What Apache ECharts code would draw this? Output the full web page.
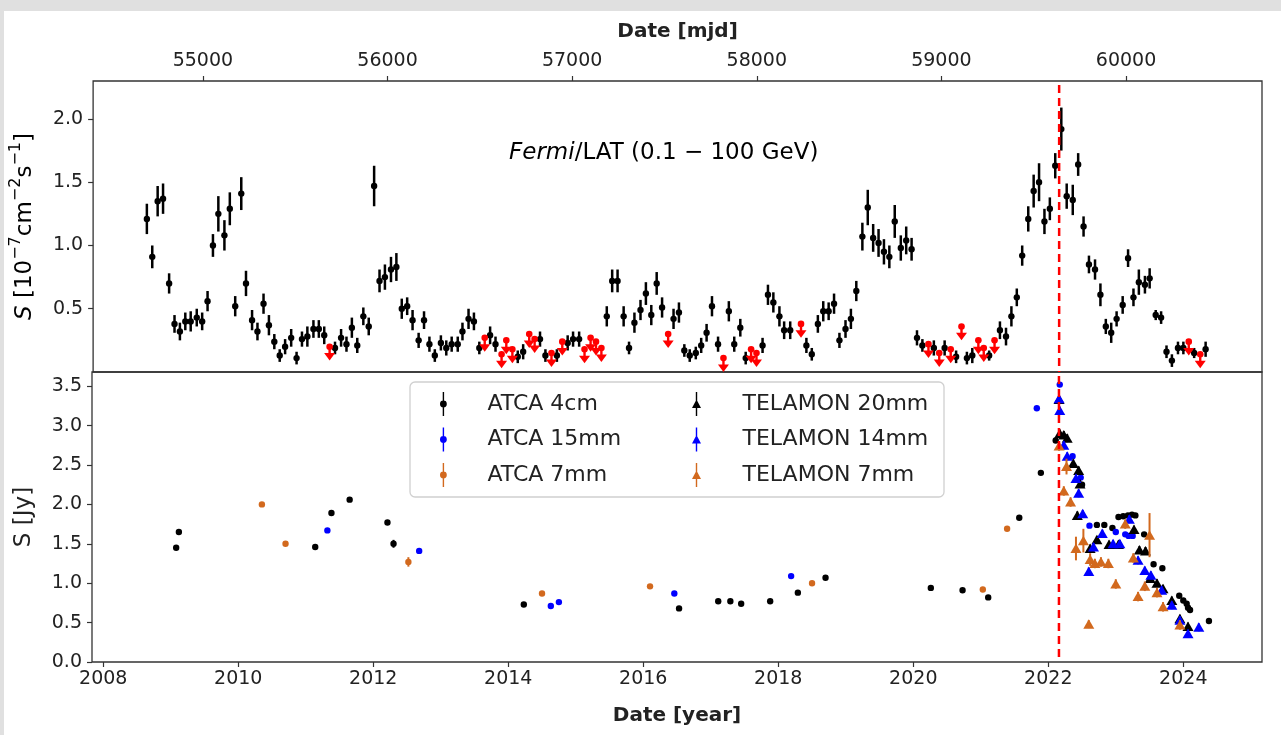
<!DOCTYPE html>
<html>
<head>
<meta charset="utf-8">
<script src="https://cdn.jsdelivr.net/npm/echarts@6.0.0/dist/echarts.min.js"></script>
<style>
  html, body { margin: 0; padding: 0; background: #fff; }
  #chart { width: 1281px; height: 735px; }
</style>
</head>
<body>
<div id="chart"></div>
<script>
// axis ticks
const yearTicks = [2008, 2010, 2012, 2014, 2016, 2018, 2020, 2022, 2024];
const mjdTicks = [55000, 56000, 57000, 58000, 59000, 60000];
const fluxTicks = [0.5, 1.0, 1.5, 2.0];
const radioTicks = [0, 0.5, 1.0, 1.5, 2.0, 2.5, 3.0, 3.5];

// date of the flare (red dashed line), decimal year
const flareYear = [2022.158];

// Fermi/LAT detections [year, flux 1e-7, err]
const fermiDet = [
  [2008.63, 1.21, 0.12], [2008.71, 0.91, 0.09], [2008.79, 1.35, 0.12], [2008.87, 1.37, 0.12],
  [2008.96, 0.70, 0.08], [2009.04, 0.38, 0.07], [2009.12, 0.32, 0.07], [2009.20, 0.40, 0.07],
  [2009.28, 0.40, 0.08], [2009.37, 0.43, 0.07], [2009.45, 0.40, 0.07], [2009.53, 0.56, 0.08],
  [2009.61, 1.00, 0.09], [2009.69, 1.25, 0.14], [2009.78, 1.08, 0.12], [2009.86, 1.29, 0.13],
  [2009.94, 0.52, 0.08], [2010.03, 1.41, 0.13], [2010.10, 0.70, 0.10], [2010.19, 0.41, 0.08],
  [2010.27, 0.32, 0.07], [2010.36, 0.54, 0.08], [2010.44, 0.37, 0.08], [2010.52, 0.24, 0.06],
  [2010.60, 0.13, 0.05], [2010.68, 0.20, 0.06], [2010.77, 0.27, 0.07], [2010.85, 0.11, 0.05],
  [2010.93, 0.26, 0.06], [2011.01, 0.28, 0.08], [2011.10, 0.34, 0.07], [2011.18, 0.34, 0.07],
  [2011.26, 0.29, 0.07], [2011.42, 0.19, 0.05], [2011.51, 0.27, 0.07], [2011.59, 0.22, 0.06],
  [2011.67, 0.35, 0.08], [2011.75, 0.21, 0.06], [2011.84, 0.44, 0.07], [2011.92, 0.36, 0.07],
  [2012.00, 1.47, 0.16], [2012.08, 0.72, 0.09], [2012.16, 0.75, 0.10], [2012.25, 0.81, 0.10],
  [2012.33, 0.83, 0.11], [2012.41, 0.50, 0.08], [2012.49, 0.52, 0.07], [2012.57, 0.41, 0.08],
  [2012.66, 0.25, 0.06], [2012.74, 0.41, 0.07], [2012.82, 0.22, 0.06], [2012.90, 0.13, 0.05],
  [2012.99, 0.23, 0.06], [2013.07, 0.19, 0.06], [2013.15, 0.22, 0.06], [2013.24, 0.22, 0.06],
  [2013.31, 0.32, 0.07], [2013.40, 0.42, 0.08], [2013.48, 0.40, 0.07], [2013.56, 0.19, 0.05],
  [2013.72, 0.29, 0.07], [2013.80, 0.22, 0.06], [2014.13, 0.12, 0.05], [2014.21, 0.16, 0.06],
  [2014.46, 0.26, 0.06], [2014.54, 0.13, 0.05], [2014.71, 0.13, 0.05], [2014.87, 0.23, 0.06],
  [2014.95, 0.26, 0.06], [2015.04, 0.26, 0.06], [2015.45, 0.44, 0.08], [2015.53, 0.72, 0.09],
  [2015.61, 0.72, 0.09], [2015.70, 0.44, 0.08], [2015.78, 0.19, 0.05], [2015.86, 0.39, 0.08],
  [2015.95, 0.49, 0.08], [2016.03, 0.62, 0.09], [2016.11, 0.45, 0.08], [2016.19, 0.70, 0.09],
  [2016.27, 0.51, 0.08], [2016.44, 0.42, 0.08], [2016.52, 0.47, 0.08], [2016.60, 0.17, 0.05],
  [2016.68, 0.13, 0.05], [2016.77, 0.15, 0.05], [2016.85, 0.21, 0.06], [2016.93, 0.31, 0.07],
  [2017.01, 0.52, 0.08], [2017.10, 0.22, 0.06], [2017.26, 0.48, 0.08], [2017.34, 0.22, 0.06],
  [2017.43, 0.35, 0.07], [2017.51, 0.11, 0.05], [2017.76, 0.21, 0.06], [2017.84, 0.61, 0.08],
  [2017.92, 0.55, 0.08], [2018.01, 0.44, 0.08], [2018.08, 0.33, 0.07], [2018.17, 0.33, 0.07],
  [2018.41, 0.21, 0.06], [2018.49, 0.14, 0.05], [2018.58, 0.38, 0.07], [2018.66, 0.48, 0.08],
  [2018.74, 0.48, 0.07], [2018.82, 0.54, 0.08], [2018.90, 0.25, 0.06], [2018.99, 0.34, 0.07],
  [2019.07, 0.42, 0.08], [2019.15, 0.64, 0.08], [2019.24, 1.07, 0.11], [2019.32, 1.30, 0.14],
  [2019.40, 1.06, 0.11], [2019.48, 1.02, 0.11], [2019.56, 0.95, 0.10], [2019.64, 0.91, 0.09],
  [2019.72, 1.19, 0.13], [2019.81, 0.98, 0.10], [2019.89, 1.04, 0.11], [2019.97, 0.97, 0.09],
  [2020.05, 0.27, 0.06], [2020.13, 0.21, 0.05], [2020.30, 0.19, 0.06], [2020.46, 0.19, 0.06],
  [2020.63, 0.12, 0.05], [2020.79, 0.11, 0.05], [2020.87, 0.13, 0.06], [2021.12, 0.13, 0.04],
  [2021.28, 0.33, 0.07], [2021.37, 0.28, 0.07], [2021.45, 0.44, 0.08], [2021.53, 0.59, 0.07],
  [2021.61, 0.92, 0.08], [2021.70, 1.21, 0.10], [2021.78, 1.43, 0.13], [2021.86, 1.50, 0.15],
  [2021.94, 1.19, 0.10], [2022.02, 1.29, 0.09], [2022.10, 1.63, 0.10], [2022.19, 1.92, 0.17],
  [2022.27, 1.39, 0.10], [2022.36, 1.36, 0.12], [2022.44, 1.64, 0.09], [2022.52, 1.15, 0.08],
  [2022.60, 0.85, 0.07], [2022.69, 0.81, 0.08], [2022.77, 0.61, 0.09], [2022.85, 0.36, 0.06],
  [2022.93, 0.31, 0.08], [2023.01, 0.42, 0.06], [2023.10, 0.53, 0.07], [2023.18, 0.90, 0.07],
  [2023.26, 0.59, 0.07], [2023.34, 0.71, 0.10], [2023.43, 0.69, 0.07], [2023.50, 0.74, 0.08],
  [2023.59, 0.45, 0.04], [2023.67, 0.43, 0.05], [2023.75, 0.16, 0.05], [2023.83, 0.09, 0.05],
  [2023.92, 0.19, 0.05], [2024.00, 0.19, 0.05], [2024.16, 0.15, 0.04], [2024.33, 0.18, 0.06]
];

// Fermi/LAT upper limits [year, flux 1e-7]
const fermiUL = [
  [2011.34, 0.20], [2013.64, 0.27], [2013.89, 0.14], [2013.96, 0.25], [2014.05, 0.18],
  [2014.30, 0.30], [2014.38, 0.26], [2014.63, 0.15], [2014.79, 0.24], [2015.12, 0.18],
  [2015.21, 0.27], [2015.29, 0.24], [2015.37, 0.19], [2016.36, 0.30], [2017.18, 0.11],
  [2017.59, 0.18], [2017.67, 0.15], [2018.33, 0.38], [2020.22, 0.22], [2020.38, 0.15],
  [2020.55, 0.18], [2020.71, 0.36], [2020.96, 0.25], [2021.04, 0.19], [2021.20, 0.25],
  [2024.08, 0.24], [2024.25, 0.14]
];

// radio light curves [year, flux Jy, err]
const atca4cm = [
  [2009.08, 1.45, 0.02], [2009.12, 1.65, 0.02], [2011.14, 1.46, 0.02], [2011.38, 1.89, 0.02],
  [2011.65, 2.06, 0.02], [2012.21, 1.77, 0.02], [2012.30, 1.50, 0.05], [2014.23, 0.73, 0.02],
  [2016.53, 0.68, 0.02], [2017.11, 0.77, 0.02], [2017.29, 0.77, 0.02], [2017.45, 0.74, 0.02],
  [2017.88, 0.77, 0.02], [2018.29, 0.88, 0.02], [2018.70, 1.07, 0.02], [2020.26, 0.94, 0.02],
  [2020.73, 0.91, 0.02], [2021.11, 0.82, 0.02], [2021.57, 1.83, 0.02], [2021.89, 2.40, 0.02],
  [2022.11, 2.81, 0.02], [2022.50, 2.25, 0.03], [2022.72, 1.74, 0.02], [2022.83, 1.74, 0.02],
  [2022.95, 1.70, 0.02], [2023.04, 1.84, 0.02], [2023.11, 1.85, 0.02], [2023.18, 1.86, 0.02],
  [2023.24, 1.87, 0.02], [2023.29, 1.86, 0.02], [2023.42, 1.62, 0.02], [2023.56, 1.24, 0.02],
  [2023.69, 1.19, 0.02], [2023.94, 0.84, 0.02], [2024.00, 0.78, 0.02], [2024.05, 0.74, 0.02],
  [2024.07, 0.69, 0.02], [2024.10, 0.66, 0.02], [2024.38, 0.52, 0.02]
];
const atca15mm = [
  [2011.32, 1.67, 0.02], [2012.68, 1.41, 0.02], [2014.63, 0.71, 0.02], [2014.75, 0.76, 0.02],
  [2016.46, 0.87, 0.02], [2018.19, 1.09, 0.02], [2021.83, 3.22, 0.02], [2022.17, 3.52, 0.03],
  [2022.36, 2.61, 0.03], [2022.48, 2.34, 0.03], [2022.61, 1.73, 0.03], [2023.00, 1.65, 0.02],
  [2023.14, 1.62, 0.02], [2023.19, 1.60, 0.02], [2023.25, 1.60, 0.02]
];
const atca7mm = [
  [2010.35, 2.00, 0.02], [2010.70, 1.50, 0.02], [2012.52, 1.27, 0.06], [2014.50, 0.87, 0.02],
  [2016.10, 0.96, 0.02], [2018.50, 1.00, 0.02], [2021.03, 0.92, 0.02], [2021.39, 1.69, 0.02]
];
const telamon20mm = [
  [2022.16, 3.33, 0.05], [2022.17, 2.90, 0.05], [2022.23, 2.88, 0.05], [2022.28, 2.84, 0.05],
  [2022.37, 2.52, 0.05], [2022.45, 2.43, 0.05], [2022.47, 2.26, 0.05], [2022.43, 1.86, 0.05],
  [2022.62, 1.44, 0.05], [2022.72, 1.55, 0.05], [2022.90, 1.49, 0.05], [2023.04, 1.49, 0.05],
  [2023.27, 1.68, 0.05], [2023.35, 1.42, 0.05], [2023.44, 1.41, 0.05], [2023.51, 1.06, 0.05],
  [2023.61, 1.00, 0.05], [2023.70, 0.93, 0.05], [2023.83, 0.78, 0.05], [2023.95, 0.55, 0.05],
  [2024.07, 0.45, 0.05]
];
const telamon14mm = [
  [2022.16, 3.34, 0.05], [2022.17, 3.19, 0.05], [2022.23, 2.75, 0.05], [2022.28, 2.61, 0.05],
  [2022.41, 2.33, 0.05], [2022.45, 2.14, 0.05], [2022.51, 1.88, 0.05], [2022.60, 1.15, 0.05],
  [2022.67, 1.46, 0.05], [2022.80, 1.63, 0.05], [2022.96, 1.50, 0.05], [2023.06, 1.50, 0.05],
  [2023.20, 1.81, 0.05], [2023.33, 1.29, 0.05], [2023.43, 1.16, 0.05], [2023.52, 1.10, 0.05],
  [2023.68, 0.91, 0.05], [2023.83, 0.72, 0.05], [2023.95, 0.53, 0.05], [2024.07, 0.36, 0.05],
  [2024.23, 0.44, 0.05]
];
const telamon7mm = [
  [2022.16, 2.74, 0.06], [2022.27, 2.48, 0.10], [2022.23, 2.17, 0.06], [2022.33, 2.03, 0.06],
  [2022.41, 1.44, 0.15], [2022.52, 1.54, 0.15], [2022.60, 0.48, 0.05], [2022.62, 1.30, 0.08],
  [2022.69, 1.25, 0.06], [2022.78, 1.27, 0.06], [2022.89, 1.25, 0.06], [2023.00, 0.99, 0.06],
  [2023.14, 1.75, 0.06], [2023.26, 1.32, 0.06], [2023.33, 0.83, 0.06], [2023.43, 0.96, 0.06],
  [2023.50, 1.61, 0.28], [2023.61, 0.88, 0.06], [2023.70, 0.70, 0.06], [2023.95, 0.47, 0.06]
];

const FONT = 'DejaVu Sans';
const BLACK = '#000000';
const BLUE = '#0000ff';
const ORANGE = '#d2691e';
const RED = '#ff0000';

const yearMin = 2007.833, yearMax = 2025.166;
const toMjd = y => 51544.5 + (y - 2000) * 365.25;

// point with vertical error bar
function errorBarItem(color, shape, size, lw) {
  return function (params, api) {
    const x = api.value(0), y = api.value(1), e = api.value(2);
    const p = api.coord([x, y]);
    const lo = api.coord([x, y - e]);
    const hi = api.coord([x, y + e]);
    const children = [{
      type: 'line',
      shape: { x1: p[0], y1: lo[1], x2: p[0], y2: hi[1] },
      style: { stroke: color, lineWidth: lw }
    }];
    if (shape === 'triangle') {
      children.push({
        type: 'polygon',
        shape: { points: [[p[0], p[1] - size], [p[0] + size * 1.1, p[1] + size * 0.9], [p[0] - size * 1.1, p[1] + size * 0.9]] },
        style: { fill: color }
      });
    } else {
      children.push({ type: 'circle', shape: { cx: p[0], cy: p[1], r: size }, style: { fill: color } });
    }
    return { type: 'group', children };
  };
}

// upper limit: dot with a downward arrow
function upperLimitItem(params, api) {
  const x = api.value(0), y = api.value(1);
  const p = api.coord([x, y]);
  const tip = api.coord([x, y - 0.11]);
  return {
    type: 'group',
    children: [
      { type: 'line', shape: { x1: p[0], y1: p[1], x2: p[0], y2: tip[1] - 5 }, style: { stroke: RED, lineWidth: 2.4 } },
      { type: 'polygon', shape: { points: [[p[0] - 5.5, tip[1] - 7.5], [p[0] + 5.5, tip[1] - 7.5], [p[0], tip[1]]] }, style: { fill: RED } },
      { type: 'circle', shape: { cx: p[0], cy: p[1], r: 3.3 }, style: { fill: RED } }
    ]
  };
}

function flareLine(params, api) {
  const cs = params.coordSys;
  const p = api.coord([api.value(0), 0]);
  return {
    type: 'line',
    shape: { x1: p[0], y1: cs.y + 4, x2: p[0], y2: cs.y + cs.height },
    style: { stroke: RED, lineWidth: 2.5, lineDash: [8, 5] }
  };
}

const tickStyle = { color: '#333', width: 1.2 };
const labelStyle = { fontFamily: FONT, fontSize: 19, color: '#222' };

function radioSeries(name, data, color, shape, size) {
  return {
    type: 'custom', name, data, xAxisIndex: 2, yAxisIndex: 1,
    encode: { x: 0, y: 1 },
    itemStyle: { color },
    renderItem: errorBarItem(color, shape, size, 2),
    z: 3
  };
}

const circleIcon = 'path://M4.3,0H5.7V24H4.3Z M5,8.6A3.4,3.4,0,1,1,4.99,8.6Z';
const triIcon = 'path://M4.3,0H5.7V24H4.3Z M5,7.5L9.5,16H0.5Z';

const chart = echarts.init(document.getElementById('chart'));
chart.setOption({
  backgroundColor: '#fff',
  animation: false,
  title: {
    text: '{i|Fermi}/LAT (0.1 − 100 GeV)',
    left: 509, top: 142, padding: 0,
    textStyle: {
      fontFamily: FONT, fontSize: 23, fontWeight: 'normal', color: '#000',
      rich: { i: { fontFamily: FONT, fontSize: 23, fontStyle: 'italic', color: '#000' } }
    }
  },
  graphic: [
    { type: 'rect', shape: { x: 0, y: 0, width: 1281, height: 11 }, style: { fill: '#e0e0e0' }, z: 100 },
    { type: 'rect', shape: { x: 0, y: 0, width: 4, height: 735 }, style: { fill: '#e0e0e0' }, z: 100 },
    {
      type: 'rect', shape: { x: 410, y: 382, width: 534, height: 115, r: 5 },
      style: { fill: 'rgba(255,255,255,0.8)', stroke: '#d0d0d0', lineWidth: 1.3 }, z: 5
    }
  ],
  legend: [
    {
      left: 440, top: 392, orient: 'vertical', padding: 0, itemGap: 11.5,
      itemWidth: 10, itemHeight: 24, selectedMode: false, z: 10,
      textStyle: { fontFamily: FONT, fontSize: 22, color: '#222', padding: [0, 0, 0, 34] },
      data: [
        { name: 'ATCA 4cm', icon: circleIcon, itemStyle: { color: BLACK } },
        { name: 'ATCA 15mm', icon: circleIcon, itemStyle: { color: BLUE } },
        { name: 'ATCA 7mm', icon: circleIcon, itemStyle: { color: ORANGE } }
      ]
    },
    {
      left: 692, top: 392, orient: 'vertical', padding: 0, itemGap: 11.5,
      itemWidth: 10, itemHeight: 24, selectedMode: false, z: 10,
      textStyle: { fontFamily: FONT, fontSize: 22, color: '#222', padding: [0, 0, 0, 36] },
      data: [
        { name: 'TELAMON 20mm', icon: triIcon, itemStyle: { color: BLACK } },
        { name: 'TELAMON 14mm', icon: triIcon, itemStyle: { color: BLUE } },
        { name: 'TELAMON 7mm', icon: triIcon, itemStyle: { color: ORANGE } }
      ]
    }
  ],
  grid: [
    { left: 92, top: 81, width: 1170, height: 291, show: true, borderColor: '#333', borderWidth: 1.3, backgroundColor: 'transparent' },
    { left: 92, top: 372, width: 1170, height: 290, show: true, borderColor: '#333', borderWidth: 1.3, backgroundColor: 'transparent' }
  ],
  xAxis: [
    { type: 'value', gridIndex: 0, min: yearMin, max: yearMax, show: false },
    {
      type: 'value', gridIndex: 0, position: 'top', min: toMjd(yearMin), max: toMjd(yearMax),
      name: 'Date [mjd]', nameLocation: 'middle', nameGap: 39,
      nameTextStyle: { fontFamily: FONT, fontSize: 20, fontWeight: 'bold', color: '#222' },
      axisLine: { show: false },
      axisTick: { show: true, length: 5, lineStyle: tickStyle, customValues: mjdTicks },
      axisLabel: Object.assign({ margin: 10, customValues: mjdTicks, formatter: v => String(v) }, labelStyle),
      splitLine: { show: false }
    },
    {
      type: 'value', gridIndex: 1, min: yearMin, max: yearMax,
      name: 'Date [year]', nameLocation: 'middle', nameGap: 44,
      nameTextStyle: { fontFamily: FONT, fontSize: 20, fontWeight: 'bold', color: '#222' },
      axisLine: { show: false },
      axisTick: { show: true, length: 5, lineStyle: tickStyle, customValues: yearTicks },
      axisLabel: Object.assign({ margin: 8, customValues: yearTicks, formatter: v => String(v) }, labelStyle),
      splitLine: { show: false }
    }
  ],
  yAxis: [
    {
      type: 'value', gridIndex: 0, min: 0, max: 2.3,
      name: '{i|S} [10{s|−7}cm{s|−2}s{s|−1}]', nameLocation: 'middle', nameRotate: 90, nameGap: 54,
      nameTextStyle: {
        fontFamily: FONT, fontSize: 23, color: '#000', lineHeight: 34, verticalAlign: 'middle',
        rich: {
          i: { fontFamily: FONT, fontSize: 23, fontStyle: 'italic', color: '#000', lineHeight: 34, verticalAlign: 'middle' },
          s: { fontFamily: FONT, fontSize: 16, color: '#000', lineHeight: 19, verticalAlign: 'top' }
        }
      },
      axisLine: { show: false },
      axisTick: { show: true, length: 5, lineStyle: tickStyle, customValues: fluxTicks },
      axisLabel: Object.assign({ margin: 10, customValues: fluxTicks, formatter: v => v.toFixed(1) }, labelStyle),
      splitLine: { show: false }
    },
    {
      type: 'value', gridIndex: 1, min: 0, max: 3.68,
      name: 'S [Jy]', nameLocation: 'middle', nameRotate: 90, nameGap: 56,
      nameTextStyle: { fontFamily: FONT, fontSize: 23, color: '#222' },
      axisLine: { show: false },
      axisTick: { show: true, length: 5, lineStyle: tickStyle, customValues: radioTicks },
      axisLabel: Object.assign({ margin: 10, customValues: radioTicks, formatter: v => v.toFixed(1) }, labelStyle),
      splitLine: { show: false }
    }
  ],
  series: [
    {
      type: 'custom', name: 'Fermi', data: fermiDet, xAxisIndex: 0, yAxisIndex: 0,
      encode: { x: 0, y: 1 }, renderItem: errorBarItem(BLACK, 'circle', 3.2, 2.5), z: 3
    },
    {
      type: 'custom', name: 'Fermi UL', data: fermiUL, xAxisIndex: 0, yAxisIndex: 0,
      encode: { x: 0, y: 1 }, renderItem: upperLimitItem, z: 3
    },
    radioSeries('ATCA 4cm', atca4cm, BLACK, 'circle', 3.2),
    radioSeries('ATCA 15mm', atca15mm, BLUE, 'circle', 3.2),
    radioSeries('ATCA 7mm', atca7mm, ORANGE, 'circle', 3.2),
    radioSeries('TELAMON 20mm', telamon20mm, BLACK, 'triangle', 5),
    radioSeries('TELAMON 14mm', telamon14mm, BLUE, 'triangle', 5),
    radioSeries('TELAMON 7mm', telamon7mm, ORANGE, 'triangle', 5),
    {
      type: 'custom', name: 'flare top', data: flareYear.map(v => [v, 0]), xAxisIndex: 0, yAxisIndex: 0,
      encode: { x: 0, y: 1 }, renderItem: flareLine, z: 6
    },
    {
      type: 'custom', name: 'flare bottom', data: flareYear.map(v => [v, 0]), xAxisIndex: 2, yAxisIndex: 1,
      encode: { x: 0, y: 1 }, renderItem: flareLine, z: 6
    }
  ]
});
</script>
</body>
</html>
